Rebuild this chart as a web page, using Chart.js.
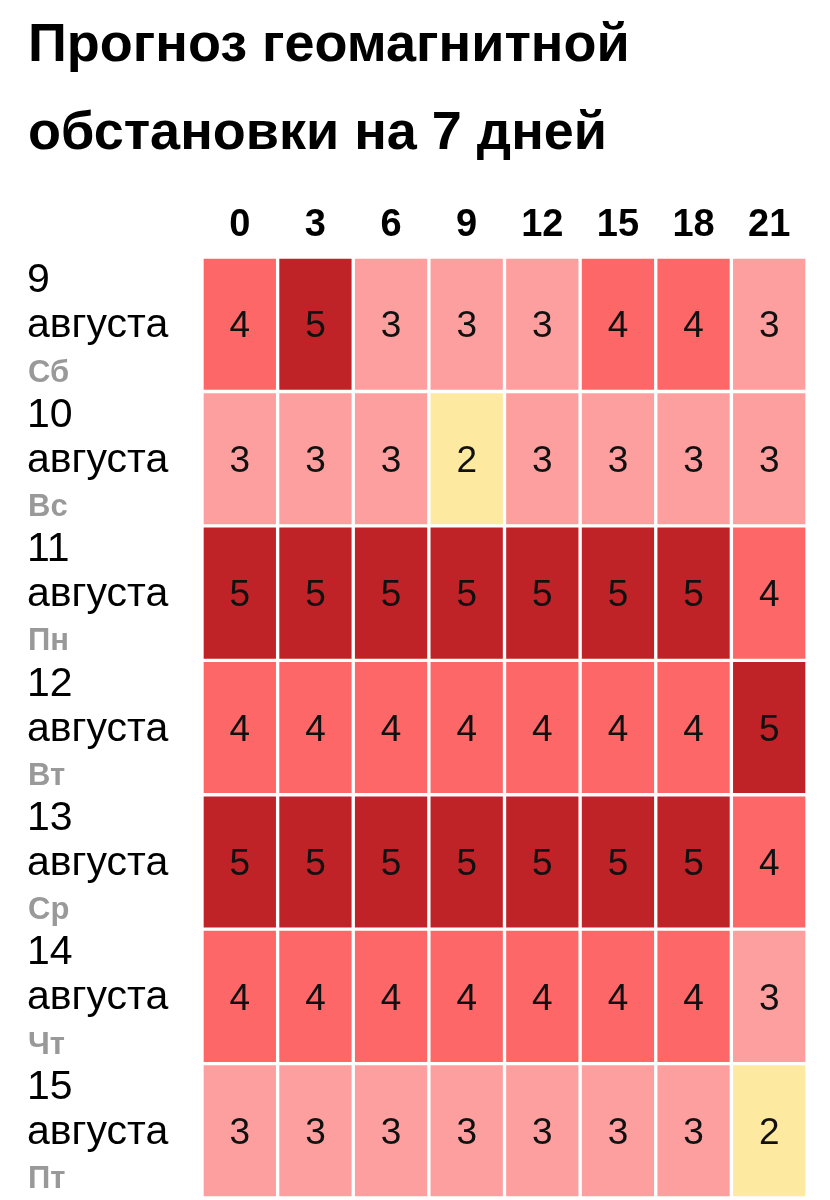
<!DOCTYPE html>
<html>
<head>
<meta charset="utf-8">
<script src="https://cdn.jsdelivr.net/npm/chart.js@4"></script>
<style>
  body { margin: 0; background: #fff; }
  #wrap { width: 830px; height: 1200px; }
</style>
</head>
<body>
<div id="wrap"><canvas id="myChart" width="830" height="1200"></canvas></div>
<script>
// hours (columns)
let hours = ['0', '3', '6', '9', '12', '15', '18', '21'];
// days (rows)
let dayNums = ['9', '10', '11', '12', '13', '14', '15'];
let dayMonth = 'августа';
let weekDays = ['Сб', 'Вс', 'Пн', 'Вт', 'Ср', 'Чт', 'Пт'];

// Kp forecast per day
let aug9  = [4, 5, 3, 3, 3, 4, 4, 3];
let aug10 = [3, 3, 3, 2, 3, 3, 3, 3];
let aug11 = [5, 5, 5, 5, 5, 5, 5, 4];
let aug12 = [4, 4, 4, 4, 4, 4, 4, 5];
let aug13 = [5, 5, 5, 5, 5, 5, 5, 4];
let aug14 = [4, 4, 4, 4, 4, 4, 4, 3];
let aug15 = [3, 3, 3, 3, 3, 3, 3, 2];
let rows = [aug9, aug10, aug11, aug12, aug13, aug14, aug15];

function cellColor(v) {
    if (v >= 5) return '#bf2327';
    if (v == 4) return '#fe6767';
    if (v == 3) return '#fd9f9f';
    return '#fee9a1';
}

// one dataset per row, floating bars [row, row+1]
let datasets = rows.map(function (vals, r) {
    return {
        label: dayNums[r],
        data: vals.map(function () { return [r, r + 1]; }),
        kp: vals,
        backgroundColor: vals.map(cellColor),
        borderColor: '#ffffff',
        borderWidth: 2,
        borderSkipped: false,
        grouped: false,
        barPercentage: 1,
        categoryPercentage: 1
    };
});

// numbers inside cells + row labels on the left
const cellText = {
    id: 'cellText',
    afterDatasetsDraw(chart) {
        const ctx = chart.ctx;
        ctx.save();
        ctx.fillStyle = '#111';
        ctx.font = '37px "Liberation Sans", Arial, sans-serif';
        ctx.textAlign = 'center';
        ctx.textBaseline = 'middle';
        chart.data.datasets.forEach(function (ds, i) {
            chart.getDatasetMeta(i).data.forEach(function (bar, j) {
                const c = bar.getCenterPoint();
                ctx.fillText(ds.kp[j], c.x, c.y + 3);
            });
        });

        const y = chart.scales.y;
        ctx.textAlign = 'left';
        for (let r = 0; r < dayNums.length; r++) {
            const top = y.getPixelForValue(r);
            ctx.fillStyle = '#000';
            ctx.font = '41px "Liberation Sans", Arial, sans-serif';
            ctx.fillText(dayNums[r], 27, top + 24);
            ctx.fillText(dayMonth, 27, top + 69);
            ctx.fillStyle = '#999999';
            ctx.font = 'bold 31px "Liberation Sans", Arial, sans-serif';
            ctx.fillText(weekDays[r], 28, top + 116);
        }
        ctx.restore();
    }
};

var ctx = document.getElementById('myChart').getContext('2d');
var chart = new Chart(ctx, {
    type: 'bar',
    data: {
        labels: hours,
        datasets: datasets
    },
    options: {
        responsive: false,
        animation: false,
        layout: { padding: { left: 28, right: 23, top: 0, bottom: 2 } },
        plugins: {
            legend: { display: false },
            tooltip: { enabled: false },
            title: {
                display: true,
                text: ['Прогноз геомагнитной', 'обстановки на 7 дней'],
                align: 'start',
                color: '#000',
                font: { family: '"Liberation Sans", Arial, sans-serif', size: 54, weight: 'bold', lineHeight: 1.63 },
                padding: { top: 2, bottom: 0 }
            }
        },
        scales: {
            x: {
                position: 'top',
                grid: { display: false, drawTicks: false },
                border: { display: false },
                ticks: {
                    color: '#000',
                    padding: 13,
                    font: { family: '"Liberation Sans", Arial, sans-serif', size: 38, weight: 'bold', lineHeight: 1 }
                },
                afterFit: function (scale) { scale.height = 79; }
            },
            y: {
                type: 'linear',
                reverse: true,
                min: 0,
                max: 7,
                grid: { display: false, drawTicks: false },
                border: { display: false },
                ticks: { display: false },
                afterFit: function (scale) { scale.width = 174; }
            }
        }
    },
    plugins: [cellText]
});
</script>
</body>
</html>
